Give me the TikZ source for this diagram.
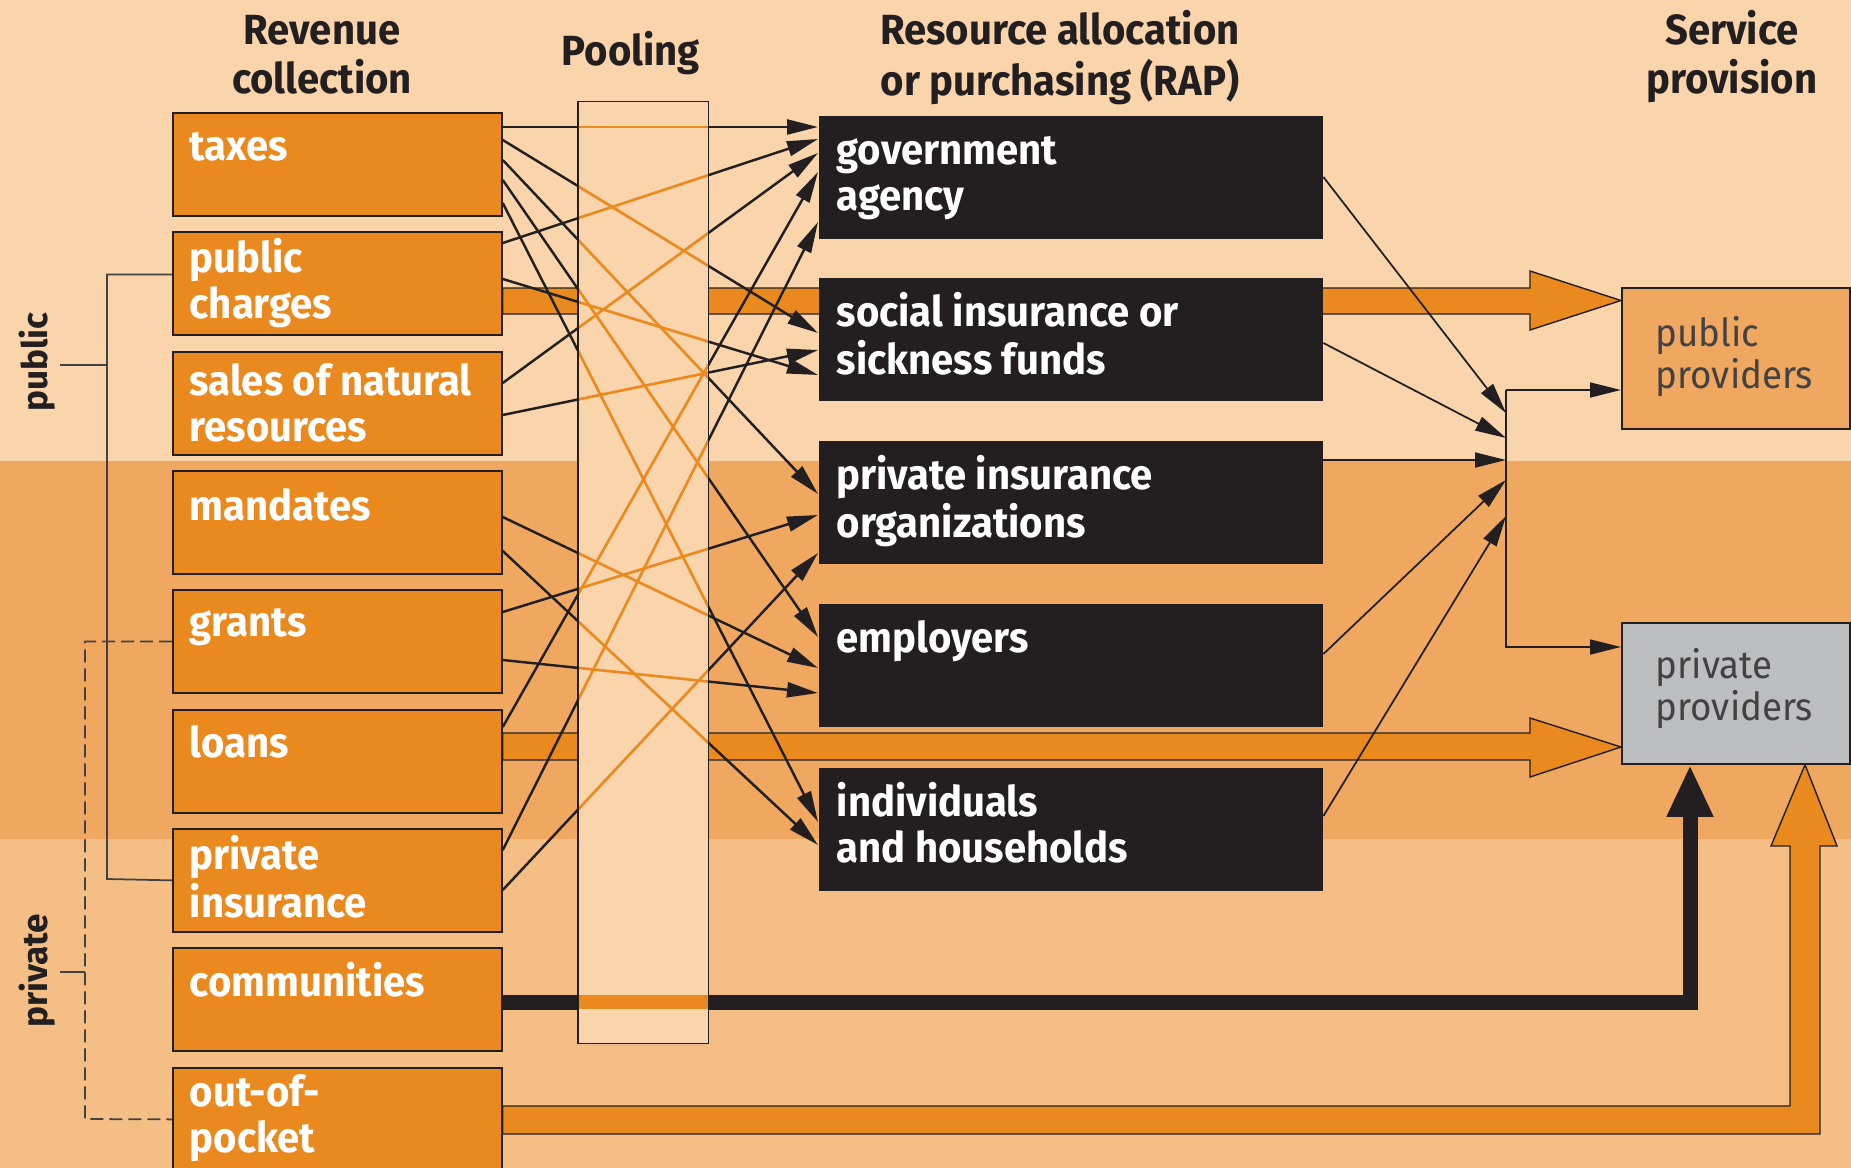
\documentclass[tikz,border=0pt]{standalone}
\usepackage{fontspec}
\setmainfont{Fira Sans}[FakeStretch=0.95]
\newfontfamily\sidefont{Fira Sans}
\usetikzlibrary{arrows.meta,calc}

\pgfdeclarelayer{bg}
\pgfdeclarelayer{mid}
\pgfsetlayers{bg,mid,main}

\definecolor{bandtop}{HTML}{FAD4AA}
\definecolor{bandmid}{HTML}{F0A860}
\definecolor{bandlow}{HTML}{F5BE85}
\definecolor{boxorange}{HTML}{EA8A1E}
\definecolor{rapblack}{HTML}{231F20}
\definecolor{provgrey}{HTML}{BCBEC0}

% text stacked in rows, baseline on the first row
\newcommand{\stacklines}[2][l]{\begin{tabular}[t]{@{}#1@{}}#2\end{tabular}}

\tikzset{
  revbox/.style={draw=rapblack, line width=0.5pt, fill=boxorange, anchor=north west,
    minimum width=32.9mm, minimum height=10.3mm, inner sep=0pt},
  rapbox/.style={fill=rapblack, anchor=north west,
    minimum width=50.4mm, minimum height=12.3mm, inner sep=0pt},
  provbox/.style={draw=rapblack, line width=0.5pt, anchor=north west,
    minimum width=22.8mm, minimum height=14.1mm, inner sep=0pt},
  pool/.style={fill=bandtop, anchor=north west,
    minimum width=12.9mm, minimum height=94.05mm, inner sep=0pt},
  boxtext/.style={anchor=base west, inner sep=0pt, text=white,
    font=\bfseries\fontsize{12}{13.1}\selectfont},
  provtext/.style={anchor=base west, inner sep=0pt, text=rapblack!85,
    font=\fontsize{11}{11.4}\selectfont},
  heading/.style={anchor=base, inner sep=0pt, text=rapblack,
    font=\bfseries\fontsize{12}{13.1}\selectfont},
  side/.style={rotate=90, inner sep=0pt, text=rapblack,
    font=\sidefont\bfseries\fontsize{10}{12}\selectfont},
  bracket/.style={draw=rapblack!85, line width=0.5pt},
  link/.style={draw=rapblack, line width=0.7pt, -{Triangle[length=3.1mm,width=1.5mm]}},
  fat/.style={fill=boxorange, draw=rapblack, line width=0.4pt, line join=miter},
}

% money flows from the sources to the purchasers
\newcommand{\flows}{%
  \draw[link] ($(taxes.north east)+(0,15)$) -- ($(gov.north west)+(0,12)$);
  \draw[link] ($(taxes.north east)+(0,28)$) -- ($(social.north west)+(0,56)$);
  \draw[link] ($(taxes.north east)+(0,48)$) -- ($(pio.north west)+(0,54)$);
  \draw[link] ($(taxes.north east)+(0,68)$) -- ($(employers.north west)+(0,34)$);
  \draw[link] ($(taxes.north east)+(0,91)$) -- ($(households.north west)+(0,55)$);
  \draw[link] ($(charges.north east)+(0,12)$) -- ($(gov.north west)+(0,24)$);
  \draw[link] ($(charges.north east)+(0,48)$) -- ($(social.north west)+(0,98)$);
  \draw[link] ($(sales.north east)+(0,32)$) -- ($(gov.north west)+(0,38)$);
  \draw[link] ($(sales.north east)+(0,64)$) -- ($(social.north west)+(0,73)$);
  \draw[link] ($(mandates.north east)+(0,47)$) -- ($(employers.north west)+(0,65)$);
  \draw[link] ($(mandates.north east)+(0,81)$) -- ($(households.north west)+(0,78)$);
  \draw[link] ($(grants.north east)+(0,23)$) -- ($(pio.north west)+(0,75)$);
  \draw[link] ($(grants.north east)+(0,71)$) -- ($(employers.north west)+(0,90)$);
  \draw[link] ($(loans.north east)+(0,18)$) -- ($(gov.north west)+(0,57)$);
  \draw[link] ($(privins.north east)+(0,22)$) -- ($(gov.north west)+(0,107)$);
  \draw[link] ($(privins.north east)+(0,62)$) -- ($(pio.north west)+(0,113)$);
}

\begin{document}
\begin{tikzpicture}[x=0.1mm, y=-0.1mm]
  \useasboundingbox (0,0) rectangle (1851,1168);

  % public / mixed / private bands
  \begin{pgfonlayer}{bg}
    \fill[bandtop] (0,0) rectangle (1851,461);
    \fill[bandmid] (0,461) rectangle (1851,839);
    \fill[bandlow] (0,839) rectangle (1851,1168);
  \end{pgfonlayer}

  % column headings
  \node[heading] (revhead) at (322,45) {\stacklines[c]{Revenue\\collection}};
  \node[heading] (poolhead) at (631,65) {Pooling};
  \node[heading] (raphead) at (1060,45) {\stacklines[c]{Resource allocation\\or purchasing (RAP)}};
  \node[heading] (servhead) at (1732,45) {\stacklines[c]{Service\\provision}};

  % revenue collection
  \node[revbox] (taxes) at (172,112) {};
  \node[revbox] (charges) at (172,231) {};
  \node[revbox] (sales) at (172,351) {};
  \node[revbox] (mandates) at (172,470) {};
  \node[revbox] (grants) at (172,589) {};
  \node[revbox] (loans) at (172,709) {};
  \node[revbox] (privins) at (172,828) {};
  \node[revbox] (communities) at (172,947) {};
  \node[revbox] (pocket) at (172,1067) {};
  \node[boxtext] (taxes-t) at ($(taxes.north west)+(17,48)$) {taxes};
  \node[boxtext] (charges-t) at ($(charges.north west)+(17,41)$) {\stacklines{public\\charges}};
  \node[boxtext] (sales-t) at ($(sales.north west)+(17,44)$) {\stacklines{sales of natural\\resources}};
  \node[boxtext] (mandates-t) at ($(mandates.north west)+(17,50)$) {mandates};
  \node[boxtext] (grants-t) at ($(grants.north west)+(17,47)$) {grants};
  \node[boxtext] (loans-t) at ($(loans.north west)+(17,48)$) {loans};
  \node[boxtext] (privins-t) at ($(privins.north west)+(17,41)$) {\stacklines{private\\insurance}};
  \node[boxtext] (communities-t) at ($(communities.north west)+(17,49)$) {communities};
  \node[boxtext] (pocket-t) at ($(pocket.north west)+(17,39)$) {\stacklines{out-of-\\pocket}};

  % resource allocation or purchasing
  \node[rapbox] (gov) at (818,115) {};
  \node[rapbox] (social) at (818,277) {};
  \node[rapbox] (pio) at (818,440) {};
  \node[rapbox] (employers) at (818,603) {};
  \node[rapbox] (households) at (818,767) {};
  \node[boxtext] (gov-t) at ($(gov.north west)+(18,49)$) {\stacklines{government\\agency}};
  \node[boxtext] (social-t) at ($(social.north west)+(18,49)$) {\stacklines{social insurance or\\sickness funds}};
  \node[boxtext] (pio-t) at ($(pio.north west)+(18,49)$) {\stacklines{private insurance\\organizations}};
  \node[boxtext] (employers-t) at ($(employers.north west)+(18,49)$) {employers};
  \node[boxtext] (households-t) at ($(households.north west)+(18,49)$) {\stacklines{individuals\\and households}};

  % service provision
  \node[provbox, fill=bandmid] (public) at (1621,287) {};
  \node[provbox, fill=provgrey] (private) at (1621,622) {};
  \node[provtext] (public-t) at ($(public.north west)+(34,59)$) {\stacklines{public\\providers}};
  \node[provtext] (private-t) at ($(private.north west)+(34,56)$) {\stacklines{private\\providers}};

  % wide flows
  \begin{pgfonlayer}{mid}
    \draw[fat] (charges.east |- 0,288) -- (1530,288) -- (1530,271) -- (public.west |- 0,300.5)
      -- (1530,330) -- (1530,314) -- (charges.east |- 0,314) -- cycle;
    \draw[fat] (loans.east |- 0,733) -- (1530,733) -- (1530,718) -- (private.west |- 0,747)
      -- (1530,777) -- (1530,760) -- (loans.east |- 0,760) -- cycle;
    \draw[rapblack, line width=1.5mm, line join=miter, -{Triangle[length=5.2mm,width=4.3mm]}]
      (communities.east |- 0,1002) -- (1690,1002) -- (1690,0 |- private.south);
    \draw[fat] (pocket.east |- 0,1106) -- (1790,1106) -- (1790,846) -- (1771,846)
      -- (1805,0 |- private.south) -- (1837,846) -- (1820,846) -- (1820,1134)
      -- (pocket.east |- 0,1134) -- cycle;
  \end{pgfonlayer}

  \flows

  % pooling column, flows turn orange inside it
  \node[pool] (pool) at (578,101.5) {};
  \begin{scope}
    \clip (pool.north west) rectangle (pool.south east);
    \tikzset{link/.style={draw=boxorange, line width=0.75pt}}
    \flows
    \fill[boxorange] (pool.west |- 0,995) rectangle (pool.east |- 0,1009);
  \end{scope}
  \draw[rapblack, line width=0.5pt] (pool.north west) rectangle (pool.south east);

  % purchasers to providers
  \coordinate (hubtop) at (1506,390);
  \coordinate (hubbot) at (1506,647);
  \draw[link, line width=0.5pt] ($(gov.north east)+(0,62)$) -- (hubtop |- 0,413);
  \draw[link, line width=0.5pt] ($(social.north east)+(0,66)$) -- (hubtop |- 0,438);
  \draw[link, line width=0.5pt] ($(pio.north east)+(0,20)$) -- (hubtop |- 0,460);
  \draw[link, line width=0.5pt] ($(employers.north east)+(0,51)$) -- (hubtop |- 0,480);
  \draw[link, line width=0.5pt] ($(households.north east)+(0,49)$) -- (hubtop |- 0,516);
  \draw[link, line width=0.5pt] (hubtop) -- (public.west |- hubtop);
  \draw[link, line width=0.5pt] (hubtop) -- (hubbot) -- (private.west |- hubbot);

  % public and private groups
  \node[side] (publabel) at (37,362) {public};
  \node[side] (privlabel) at (37,971) {private};
  \draw[bracket] ([yshift=0.9mm]charges.west) -| (107,879) -- (privins.west);
  \draw[bracket] (60,365) -- (107,365);
  \draw[bracket, dash pattern=on 1.3mm off 0.6mm] (grants.west) -| (85,1119) -- (pocket.west);
  \draw[bracket] (60,972) -- (85,972);
\end{tikzpicture}
\end{document}
